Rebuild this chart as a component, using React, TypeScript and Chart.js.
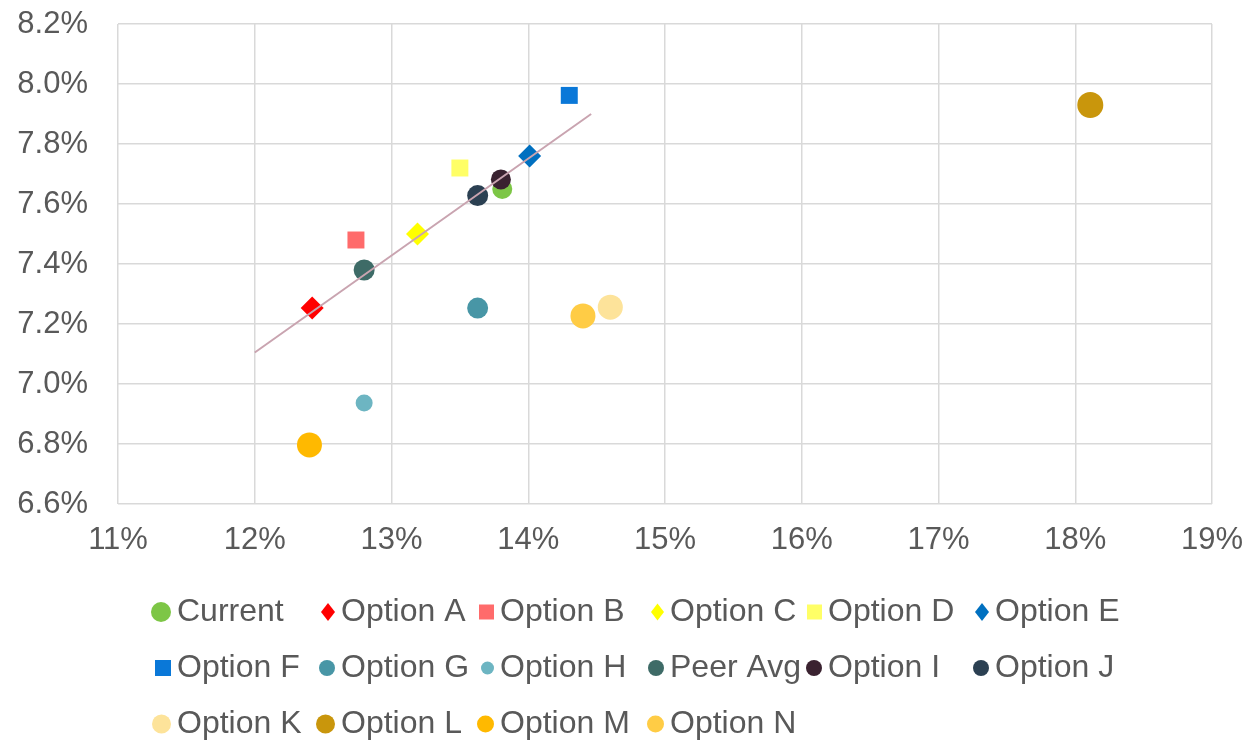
import { useEffect, useRef } from "react";
import { Chart, registerables } from "chart.js";

Chart.register(...registerables);

// ---- data ----
const seriesNames = [
  "Current", "Option A", "Option B", "Option C", "Option D", "Option E",
  "Option F", "Option G", "Option H", "Peer Avg", "Option I", "Option J",
  "Option K", "Option L", "Option M", "Option N",
];
const xValues = [13.81, 12.42, 12.74, 13.19, 13.5, 14.01, 14.3, 13.63, 12.8, 12.8, 13.8, 13.63, 14.6, 18.11, 12.4, 14.4];
const yValues = [7.65, 7.253, 7.48, 7.5, 7.72, 7.76, 7.962, 7.253, 6.937, 7.38, 7.682, 7.628, 7.256, 7.93, 6.797, 7.227];
const trendX = [12.0, 14.46];
const trendY = [7.105, 7.9];
const xTicks = [11, 12, 13, 14, 15, 16, 17, 18, 19];
const yTicks = [6.6, 6.8, 7.0, 7.2, 7.4, 7.6, 7.8, 8.0, 8.2];

// ---- styles ----
const seriesColors = [
  "#7DC646", "#FF0000", "#FF6B6B", "#FFFF00", "#FFFF66", "#0070C0",
  "#0A78D8", "#4896A6", "#6DB5C2", "#3E6B67", "#3A2230", "#2B4052",
  "#FDE39A", "#C9960C", "#FFB900", "#FFCC45",
];
const seriesShapes = [
  "circle", "rectRot", "rect", "rectRot", "rect", "rectRot",
  "rect", "circle", "circle", "circle", "circle", "circle",
  "circle", "circle", "circle", "circle",
];
const seriesRadii = [10, 11.5, 12, 11.5, 12, 11.5, 12, 10.5, 8.5, 10.5, 10, 10.5, 12.5, 13, 12.5, 12.5];
// legend marker half-sizes (Excel scales legend markers per series)
const legendMarkerHalf = [10, 7, 7.5, 6.5, 7.5, 7, 8, 8, 6.5, 8, 8, 8, 9.5, 9.5, 8.5, 8.5];

const FONT = "'Liberation Sans', Arial, sans-serif";
const TEXT = "#595959";
const GRID = "#D9D9D9";
const PLOT_LEFT = 118;
const PLOT_BOTTOM = 504;
const LEGEND_FONT = 32;
const LEGEND_COLS = 6;
const LEGEND_TEXT_X = [177, 341, 500, 670, 828, 995];
const LEGEND_ROW_Y = [612, 668, 724];
const LEGEND_GAP = 6;

const gridLegend = {
  id: "gridLegend",
  afterDraw(chart: any) {
    const ctx = chart.ctx as CanvasRenderingContext2D;
    ctx.save();
    ctx.font = `${LEGEND_FONT}px ${FONT}`;
    ctx.textBaseline = "middle";
    ctx.textAlign = "left";
    seriesNames.forEach((name, i) => {
      const col = i % LEGEND_COLS;
      const row = Math.floor(i / LEGEND_COLS);
      const tx = LEGEND_TEXT_X[col];
      const ty = LEGEND_ROW_Y[row];
      const h = legendMarkerHalf[i];
      const cx = tx - LEGEND_GAP - h;
      ctx.fillStyle = seriesColors[i];
      ctx.beginPath();
      if (seriesShapes[i] === "circle") {
        ctx.arc(cx, ty, h, 0, Math.PI * 2);
      } else if (seriesShapes[i] === "rect") {
        ctx.rect(cx - h, ty - h, 2 * h, 2 * h);
      } else {
        ctx.moveTo(cx, ty - h * 1.3);
        ctx.lineTo(cx + h, ty);
        ctx.lineTo(cx, ty + h * 1.3);
        ctx.lineTo(cx - h, ty);
        ctx.closePath();
      }
      ctx.fill();
      ctx.fillStyle = TEXT;
      ctx.fillText(name, tx, ty);
    });
    ctx.restore();
  },
};

export default function App() {
  const ref = useRef<HTMLCanvasElement>(null);
  useEffect(() => {
    document.body.style.margin = "0";
    const canvas = ref.current;
    if (!canvas) return;
    const datasets: any[] = seriesNames.map((name, i) => ({
      label: name,
      data: [{ x: xValues[i], y: yValues[i] }],
      backgroundColor: seriesColors[i],
      borderColor: seriesColors[i],
      borderWidth: 0,
      pointStyle: seriesShapes[i],
      pointRadius: seriesRadii[i],
      pointHoverRadius: seriesRadii[i],
      order: 100 - i,
    }));
    datasets.push({
      label: "Trend",
      data: trendX.map((x, i) => ({ x, y: trendY[i] })),
      showLine: true,
      borderColor: "#C9A4B0",
      backgroundColor: "#C9A4B0",
      borderWidth: 2,
      pointRadius: 0,
      order: -1,
    });

    const chart = new Chart(canvas, {
      type: "scatter",
      data: { datasets },
      options: {
        animation: false,
        responsive: true,
        maintainAspectRatio: false,
        layout: { padding: { top: 24, right: 37, left: 0, bottom: 0 } },
        plugins: {
          tooltip: { enabled: false },
          legend: { display: false },
        },
        scales: {
          x: {
            type: "linear",
            min: xTicks[0],
            max: xTicks[xTicks.length - 1],
            afterBuildTicks: (s: any) => {
              s.ticks = xTicks.map((v) => ({ value: v }));
            },
            ticks: {
              callback: (v: any) => `${v}%`,
              color: TEXT,
              font: { family: FONT, size: 31 },
              padding: 18,
              maxRotation: 0,
            },
            grid: { color: GRID, lineWidth: 1.5, drawTicks: false },
            border: { display: false },
            afterFit: (s: any) => {
              s.height = s.chart.height - PLOT_BOTTOM;
              s.paddingLeft = 0;
              s.paddingRight = 0;
              s.paddingTop = 0;
              s.paddingBottom = 0;
            },
          },
          y: {
            type: "linear",
            min: yTicks[0],
            max: yTicks[yTicks.length - 1],
            afterBuildTicks: (s: any) => {
              s.ticks = yTicks.map((v) => ({ value: v }));
            },
            ticks: {
              callback: (v: any) => `${Number(v).toFixed(1)}%`,
              color: TEXT,
              font: { family: FONT, size: 31 },
              padding: 30,
            },
            grid: { color: GRID, lineWidth: 1.5, drawTicks: false },
            border: { display: false },
            afterFit: (s: any) => {
              s.width = PLOT_LEFT;
              s.paddingLeft = 0;
              s.paddingRight = 0;
              s.paddingTop = 0;
              s.paddingBottom = 0;
            },
          },
        },
      },
      plugins: [gridLegend],
    });
    return () => chart.destroy();
  }, []);

  return (
    <div style={{ width: 1249, height: 745, position: "relative", background: "#fff" }}>
      <canvas ref={ref} />
    </div>
  );
}
